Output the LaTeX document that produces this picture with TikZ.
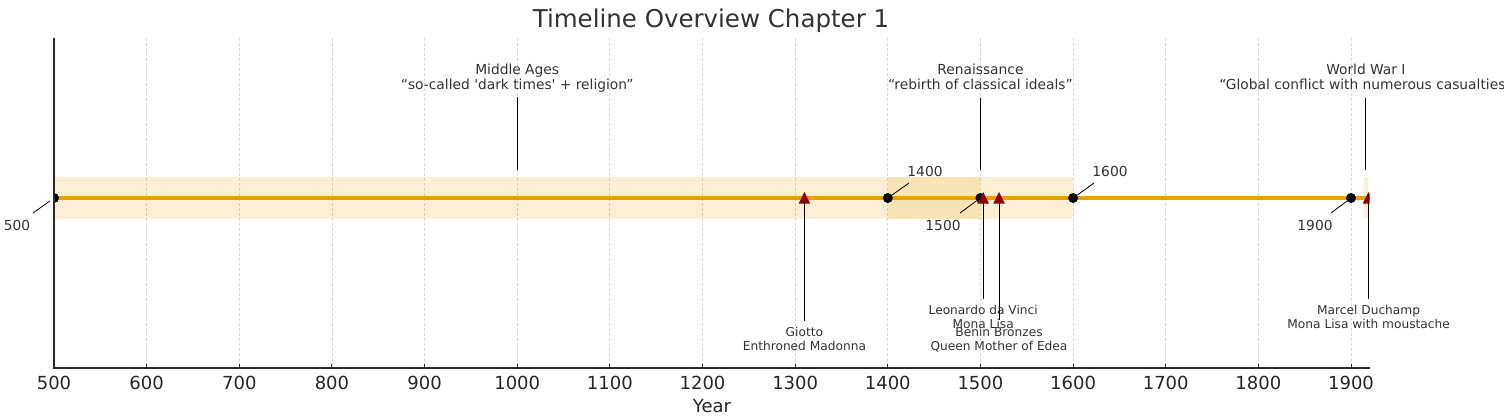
\documentclass[tikz,border=0pt]{standalone}
\usepackage{fontspec}
\setmainfont{DejaVu Sans}[Ligatures=TeXOff]
\definecolor{linec}{HTML}{E9A000}
\definecolor{bandc}{HTML}{E69F00}
\definecolor{tric}{HTML}{8B0000}
\definecolor{gridc}{HTML}{D6D6D6}
\definecolor{spinec}{HTML}{2A2A2A}
\definecolor{txtc}{HTML}{333333}
\definecolor{tickc}{HTML}{262626}
\begin{document}
\begin{tikzpicture}[x=1pt,y=-1pt,
  gridline/.style={draw=gridc, line width=0.8pt, dash pattern=on 3pt off 2pt},
  spine/.style={draw=spinec, line width=1.3pt},
  dot/.style={circle, fill=black, inner sep=0pt, minimum size=10pt},
  ticklbl/.style={font=\fontsize{18}{20}\selectfont, text=tickc, inner sep=0pt},
  annot/.style={font=\fontsize{13.8}{15}\selectfont, text=txtc, align=center, inner sep=0pt},
  small/.style={font=\fontsize{12.2}{14}\selectfont, text=txtc, align=center, inner sep=0pt},
  lead/.style={draw=black, line width=0.9pt},
  band/.style={fill=bandc, fill opacity=0.16},
  tri/.style={fill=tric}]
\useasboundingbox (0,0) rectangle (1504,417);
% grid
\foreach \yr in {600,700,...,1900}{
  \pgfmathsetmacro\xx{54+(\yr-500)*0.92643}
  \draw[gridline] (\xx,38) -- (\xx,368);
}
% clipped data
\begin{scope}
\clip (54,38) rectangle (1369.5,368);
\fill[band] (54,177) rectangle (980.4,219);
\fill[band] (887.8,177) rectangle (1073.1,219);
\fill[band] (1364.0,177) rectangle (1367.7,219);
\draw[draw=linec, line width=3.2pt] (54,198) -- (1369.5,198);
\end{scope}
% annotation lines from triangles
\coordinate (tg) at (804.4,198);
\coordinate (tl) at (983.2,198);
\coordinate (tb) at (999.0,198);
\coordinate (td) at (1368.6,198);
\coordinate (gend) at (804.4,321);
\coordinate (lend) at (983.2,299);
\coordinate (bend) at (999.0,320);
\coordinate (dend) at (1368.6,299);
\draw[lead] (tg) -- (gend);
\draw[lead] (tl) -- (lend);
\draw[lead] (tb) -- (bend);
\draw[lead] (td) -- (dend);
\begin{scope}
\clip (54,38) rectangle (1369.5,368);
\node[dot] (d500) at (54,198) {};
\node[dot] (d1400) at (887.8,198) {};
\node[dot] (d1500) at (980.4,198) {};
\node[dot] (d1600) at (1073.1,198) {};
\node[dot] (d1900) at (1351.0,198) {};
\fill[tri] (tg) ++(0,-6) -- ++(-5.8,11.6) -- ++(11.6,0) -- cycle;
\fill[tri] (tl) ++(0,-6) -- ++(-5.8,11.6) -- ++(11.6,0) -- cycle;
\fill[tri] (tb) ++(0,-6) -- ++(-5.8,11.6) -- ++(11.6,0) -- cycle;
\fill[tri] (td) ++(0,-6) -- ++(-5.8,11.6) -- ++(11.6,0) -- cycle;
\end{scope}
% year labels with leader lines
\node[annot] (l500) at (17,225) {500};
\node[annot] (l1400) at (925,171) {1400};
\node[annot] (l1500) at (943,225) {1500};
\node[annot] (l1600) at (1110,171) {1600};
\node[annot] (l1900) at (1315,225) {1900};
\coordinate (e500) at (33,213);
\coordinate (e1400) at (909,183);
\coordinate (e1500) at (960,213);
\coordinate (e1600) at (1094,183);
\coordinate (e1900) at (1331,213);
\draw[lead, line width=0.8pt] (e500) -- (d500);
\draw[lead, line width=0.8pt] (e1400) -- (d1400);
\draw[lead, line width=0.8pt] (e1500) -- (d1500);
\draw[lead, line width=0.8pt] (e1600) -- (d1600);
\draw[lead, line width=0.8pt] (e1900) -- (d1900);
% period annotations
\node[annot] (mid) at (517.2,78.2) {Middle Ages\\“so-called 'dark times' + religion”};
\node[annot] (ren) at (980.4,76.8) {Renaissance\\“rebirth of classical ideals”};
\node[annot] (ww) at (1365.9,76.8) {World War I\\“Global conflict with numerous casualties”};
\coordinate (midt) at (517.2,97);
\coordinate (midb) at (517.2,170);
\coordinate (rent) at (980.4,98);
\coordinate (renb) at (980.4,170);
\coordinate (wwt) at (1365.9,98);
\coordinate (wwb) at (1365.9,170);
\draw[lead] (midt) -- (midb);
\draw[lead] (rent) -- (renb);
\draw[lead] (wwt) -- (wwb);
% artwork labels
\node[small] (giotto) at (804.4,339) {Giotto\\Enthroned Madonna};
\node[small] (leo) at (983.2,317) {Leonardo da Vinci\\Mona Lisa};
\node[small] (benin) at (999.0,339.5) {Benin Bronzes\\Queen Mother of Edea};
\node[small] (duch) at (1368.6,317) {Marcel Duchamp\\Mona Lisa with moustache};
% axes
\draw[spine] (54,38) -- (54,368.6);
\draw[spine] (53.4,368) -- (1369.5,368);
\foreach \yr in {500,600,...,1900}{
  \pgfmathsetmacro\xx{54+(\yr-500)*0.92643}
  \draw[spine, line width=1pt] (\xx,368) -- (\xx,364);
  \node[ticklbl] at (\xx,383) {\yr};
}
\node[ticklbl] (xlab) at (712,406) {Year};
\node[font=\fontsize{24.5}{28}\selectfont, text=txtc, inner sep=0pt] (title) at (711,21) {Timeline Overview Chapter 1};
\end{tikzpicture}
\end{document}
